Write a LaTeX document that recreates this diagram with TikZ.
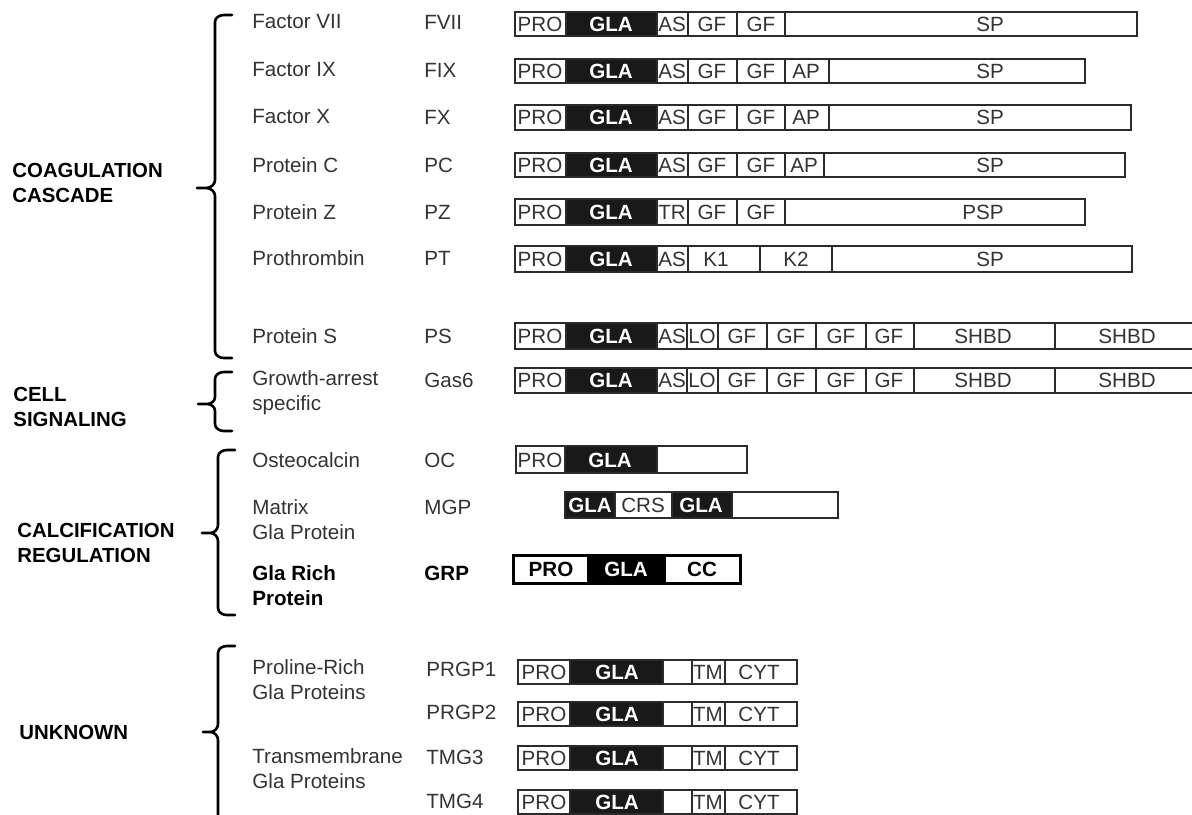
\documentclass[tikz,border=0pt]{standalone}
\usepackage{fontspec}
\setmainfont{Liberation Sans}
\usepackage{xcolor}
\usepackage{tikz}
\usetikzlibrary{positioning}

\definecolor{ink}{HTML}{333333}
\definecolor{edge}{HTML}{2B2B2B}

\begin{document}
\begin{tikzpicture}[
    x=0.5pt, y=-0.5pt,
    dom/.style={font=\fontsize{10.3}{12}\selectfont, text=ink, inner sep=0pt, text height=7.4pt, text depth=0pt},
    gla/.style={font=\fontsize{10.3}{12}\selectfont\bfseries, text=white, inner sep=0pt, text height=7.4pt, text depth=0pt},
    wseg/.style={draw=edge, line width=1pt, fill=white, nodes={dom}},
    bseg/.style={draw=edge, line width=1pt, fill=black!90, nodes={gla}},
    wsegb/.style={draw=black, line width=1.5pt, fill=white, nodes={dom, text=black, font=\fontsize{10.3}{12}\selectfont\bfseries}},
    bsegb/.style={draw=black, line width=1.5pt, fill=black, nodes={gla}},
    protname/.style={anchor=west, align=left, font=\fontsize{10.3}{12.5}\selectfont, text=ink, inner sep=0pt},
    abbrlbl/.style={anchor=west, font=\fontsize{10.3}{12}\selectfont, text=ink, inner sep=0pt, text height=7.4pt, text depth=0pt},
    grouplbl/.style={anchor=west, align=left, font=\fontsize{10.2}{12.8}\selectfont\bfseries, inner sep=0pt},
    brace/.style={line width=1.3pt, line cap=round, line join=round}
]
    \useasboundingbox (0,0) rectangle (1192,814);

    % Groups
    \node[grouplbl] (coag) at (12,183) {COAGULATION\\CASCADE};
    \node[grouplbl] (cell) at (13,407) {CELL\\SIGNALING};
    \node[grouplbl] (calc) at (17,543) {CALCIFICATION\\REGULATION};
    \node[grouplbl] (unk) at (19,732) {UNKNOWN};

    % Braces
    \draw[brace] (232,15) -- (224,15) to[out=180,in=90] (215,22) -- (215,180) to[out=-90,in=0] (206,188) -- (197,188)
        (206,188) to[out=0,in=90] (215,196) -- (215,351) to[out=-90,in=180] (224,358) -- (232,358);
    \draw[brace] (232,372) -- (224,372) to[out=180,in=90] (215,379) -- (215,397) to[out=-90,in=0] (207,404) -- (198,404)
        (207,404) to[out=0,in=90] (215,411) -- (215,424) to[out=-90,in=180] (224,431) -- (232,431);
    \draw[brace] (235,450) -- (227,450) to[out=180,in=90] (218,457) -- (218,525) to[out=-90,in=0] (210,533) -- (202,533)
        (210,533) to[out=0,in=90] (218,541) -- (218,608) to[out=-90,in=180] (227,615) -- (235,615);
    \draw[brace] (235,646) -- (227,646) to[out=180,in=90] (218,653) -- (218,724) to[out=-90,in=0] (210,732) -- (203,732)
        (210,732) to[out=0,in=90] (218,740) -- (218,830);

    % Names
    \node[protname] (n-fvii) at (252,22) {Factor VII};
    \node[protname] (n-fix) at (252,70) {Factor IX};
    \node[protname] (n-fx) at (252,117) {Factor X};
    \node[protname] (n-pc) at (252,165) {Protein C};
    \node[protname] (n-pz) at (252,212) {Protein Z};
    \node[protname] (n-pt) at (252,258) {Prothrombin};
    \node[protname] (n-ps) at (252,336) {Protein S};
    \node[protname] (n-gas) at (252,393) {Growth-arrest\\specific};
    \node[protname] (n-oc) at (252,460) {Osteocalcin};
    \node[protname] (n-mgp) at (252,520) {Matrix\\Gla Protein};
    \node[protname, text=black, font=\fontsize{10.3}{12.5}\selectfont\bfseries] (n-grp) at (252,586) {Gla Rich\\Protein};
    \node[protname] (n-prgp) at (252,680) {Proline-Rich\\Gla Proteins};
    \node[protname] (n-tmg) at (252,769) {Transmembrane\\Gla Proteins};

    % Abbreviations
    \node[abbrlbl] (a-fvii) at (424,22) {FVII};
    \node[abbrlbl] (a-fix) at (424,70) {FIX};
    \node[abbrlbl] (a-fx) at (424,117) {FX};
    \node[abbrlbl] (a-pc) at (424,165) {PC};
    \node[abbrlbl] (a-pz) at (424,212) {PZ};
    \node[abbrlbl] (a-pt) at (424,258) {PT};
    \node[abbrlbl] (a-ps) at (424,336) {PS};
    \node[abbrlbl] (a-gas) at (424,380) {Gas6};
    \node[abbrlbl] (a-oc) at (424,460) {OC};
    \node[abbrlbl] (a-mgp) at (424,507) {MGP};
    \node[abbrlbl, text=black, font=\fontsize{10.3}{12}\selectfont\bfseries] (a-grp) at (424,573) {GRP};
    \node[abbrlbl] (a-prgp1) at (426,669) {PRGP1};
    \node[abbrlbl] (a-prgp2) at (426,712) {PRGP2};
    \node[abbrlbl] (a-tmg3) at (426,757) {TMG3};
    \node[abbrlbl] (a-tmg4) at (426,801) {TMG4};

    % Domains: coagulation cascade
    \foreach \a/\b/\s/\x/\t [count=\i] in {515/566/wseg/540/PRO, 566/657/bseg/611/GLA, 657/688/wseg/672/AS, 688/737/wseg/712/GF, 737/785/wseg/761/GF, 785/1137/wseg/990/SP}
        \draw[\s] (\a,12) rectangle (\b,36) node (fvii-\i) at (\x,24) {\t};
    \foreach \a/\b/\s/\x/\t [count=\i] in {515/566/wseg/540/PRO, 566/657/bseg/611/GLA, 657/688/wseg/672/AS, 688/737/wseg/712/GF, 737/785/wseg/761/GF, 785/829/wseg/806/AP, 829/1085/wseg/990/SP}
        \draw[\s] (\a,59) rectangle (\b,83) node (fix-\i) at (\x,71) {\t};
    \foreach \a/\b/\s/\x/\t [count=\i] in {515/566/wseg/540/PRO, 566/657/bseg/611/GLA, 657/688/wseg/672/AS, 688/737/wseg/712/GF, 737/785/wseg/761/GF, 785/829/wseg/806/AP, 829/1131/wseg/990/SP}
        \draw[\s] (\a,105) rectangle (\b,130) node (fx-\i) at (\x,117) {\t};
    \foreach \a/\b/\s/\x/\t [count=\i] in {515/566/wseg/540/PRO, 566/657/bseg/611/GLA, 657/688/wseg/672/AS, 688/737/wseg/712/GF, 737/785/wseg/761/GF, 785/824/wseg/804/AP, 824/1125/wseg/990/SP}
        \draw[\s] (\a,153) rectangle (\b,177) node (pc-\i) at (\x,165) {\t};
    \foreach \a/\b/\s/\x/\t [count=\i] in {515/566/wseg/540/PRO, 566/657/bseg/611/GLA, 657/688/wseg/672/TR, 688/737/wseg/712/GF, 737/785/wseg/761/GF, 785/1085/wseg/983/PSP}
        \draw[\s] (\a,199) rectangle (\b,225) node (pz-\i) at (\x,212) {\t};
    \foreach \a/\b/\s/\x/\t [count=\i] in {515/566/wseg/540/PRO, 566/657/bseg/611/GLA, 657/688/wseg/672/AS, 688/760/wseg/716/K1, 760/832/wseg/796/K2, 832/1132/wseg/990/SP}
        \draw[\s] (\a,246) rectangle (\b,272) node (pt-\i) at (\x,259) {\t};
    \foreach \a/\b/\s/\x/\t [count=\i] in {515/566/wseg/540/PRO, 566/657/bseg/611/GLA, 657/687/wseg/672/AS, 687/718/wseg/702/LO, 718/767/wseg/742/GF, 767/816/wseg/791/GF, 816/866/wseg/841/GF, 866/914/wseg/889/GF, 914/1055/wseg/983/SHBD, 1055/1200/wseg/1127/SHBD}
        \draw[\s] (\a,323) rectangle (\b,349) node (ps-\i) at (\x,336) {\t};

    % Domains: cell signaling
    \foreach \a/\b/\s/\x/\t [count=\i] in {515/566/wseg/540/PRO, 566/657/bseg/611/GLA, 657/687/wseg/672/AS, 687/718/wseg/702/LO, 718/767/wseg/742/GF, 767/816/wseg/791/GF, 816/866/wseg/841/GF, 866/914/wseg/889/GF, 914/1055/wseg/983/SHBD, 1055/1200/wseg/1127/SHBD}
        \draw[\s] (\a,368) rectangle (\b,393) node (gas-\i) at (\x,380) {\t};

    % Domains: calcification regulation
    \foreach \a/\b/\s/\x/\t [count=\i] in {516/565/wseg/540/PRO, 565/657/bseg/610/GLA, 657/747/wseg/702/{}}
        \draw[\s] (\a,446) rectangle (\b,473) node (oc-\i) at (\x,460) {\t};
    \foreach \a/\b/\s/\x/\t [count=\i] in {565/615/bseg/590/GLA, 615/672/wseg/643/CRS, 672/732/bseg/701/GLA, 732/838/wseg/785/{}}
        \draw[\s] (\a,492) rectangle (\b,518) node (mgp-\i) at (\x,505) {\t};
    \foreach \a/\b/\s/\x/\t [count=\i] in {513/588/wsegb/551/PRO, 588/664/bsegb/626/GLA, 664/740/wsegb/702/CC}
        \draw[\s] (\a,555) rectangle (\b,583) node (grp-\i) at (\x,569) {\t};

    % Domains: unknown
    \foreach \y/\r in {672/prgp1, 714/prgp2, 758/tmg3, 802/tmg4}
        \foreach \a/\b/\s/\x/\t [count=\i] in {518/570/wseg/544/PRO, 570/663/bseg/617/GLA, 663/692/wseg/677/{}, 692/725/wseg/708/TM, 725/797/wseg/759/CYT}
            \draw[\s] (\a,\y-12) rectangle (\b,\y+12) node (\r-\i) at (\x,\y) {\t};

\end{tikzpicture}
\end{document}
